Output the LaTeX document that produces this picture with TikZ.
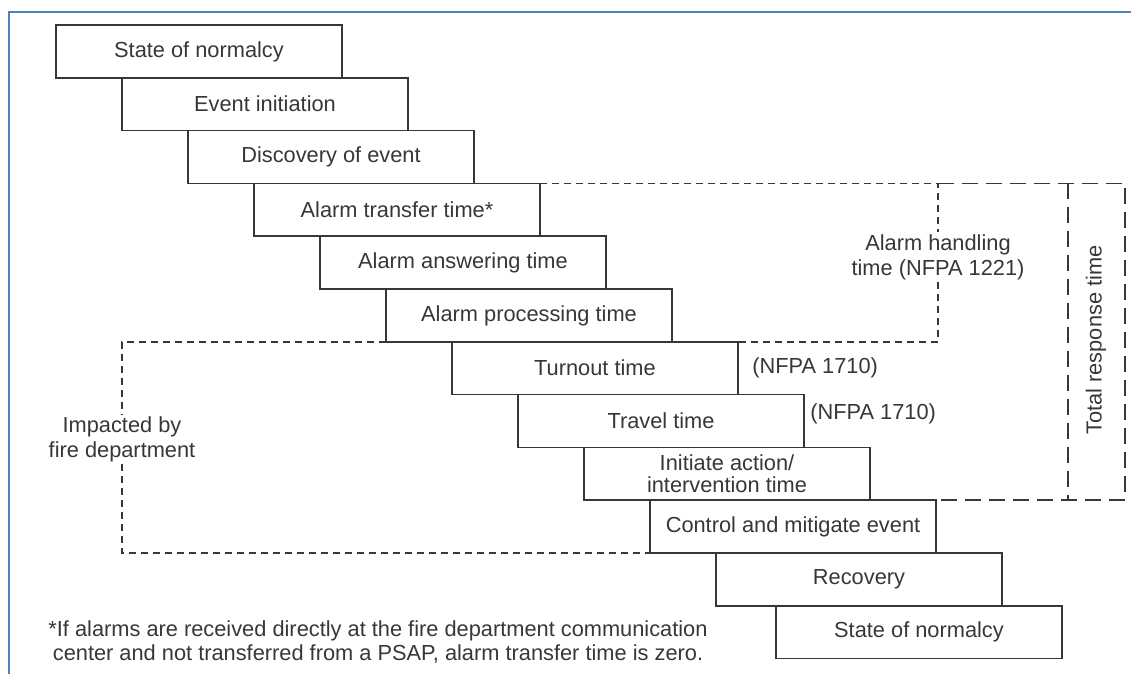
\documentclass[tikz,border=0pt]{standalone}
\usepackage{fontspec}
\setmainfont{Liberation Sans}
\usetikzlibrary{positioning}
\definecolor{framecol}{RGB}{79,129,189}
\definecolor{ink}{RGB}{55,55,55}

\begin{document}
\begin{tikzpicture}[
  x=0.5pt,y=-0.5pt,
  font=\fontsize{10.9}{12.4}\selectfont,
  stage/.style={rectangle,draw=ink,line width=0.8pt,text=ink,minimum width=143pt,minimum height=26.4pt,inner sep=0,outer sep=0,anchor=north west,align=center},
  short dash/.style={draw=ink,line width=0.8pt,dash pattern=on 3.5pt off 2.5pt},
  long dash/.style={draw=ink,line width=0.8pt,dash pattern=on 8pt off 4pt},
  note/.style={text=ink,align=center,inner sep=1pt},
]
  \useasboundingbox (0,0) rectangle (1131,674);
  \draw[framecol,line width=1pt] (9,674) -- (9,12) -- (1131,12);

  % the stages, each one below and right of the last
  \node[stage] (s1) at (56,25) {State of normalcy};
  \node[stage] (s2) at ([xshift=33pt]s1.south west) {Event initiation};
  \node[stage] (s3) at ([xshift=33pt]s2.south west) {Discovery of event};
  \node[stage] (s4) at ([xshift=33pt]s3.south west) {Alarm transfer time*};
  \node[stage] (s5) at ([xshift=33pt]s4.south west) {Alarm answering time};
  \node[stage] (s6) at ([xshift=33pt]s5.south west) {Alarm processing time};
  \node[stage] (s7) at ([xshift=33pt]s6.south west) {Turnout time};
  \node[stage] (s8) at ([xshift=33pt]s7.south west) {Travel time};
  \node[stage,font=\fontsize{10.9}{10.6}\selectfont] (s9) at ([xshift=33pt]s8.south west) {Initiate action/\\intervention time};
  \node[stage] (s10) at ([xshift=33pt]s9.south west) {Control and mitigate event};
  \node[stage] (s11) at ([xshift=33pt]s10.south west) {Recovery};
  \node[stage] (s12) at ([xshift=30pt]s11.south west) {State of normalcy};

  \node[note,anchor=west] (n1) at ([xshift=6pt]s7.east) {(NFPA 1710)};
  \node[note,anchor=west] (n2) at ([xshift=2pt,yshift=3.5pt]s8.east) {(NFPA 1710)};

  % alarm handling
  \node[note,fill=white] (ah) at (938,257) {Alarm handling\\time (NFPA 1221)};
  \draw[short dash] (s4.north east) -| (ah) (ah) |- (s6.south east);

  % total response
  \coordinate (trout) at (1125,0);
  \coordinate (trin) at (1068,0);
  \draw[long dash] (s4.north east -| ah) -- (s4.north east -| trout) -- (s9.south east -| trout) -- (s9.south east);
  \draw[long dash] (s4.north east -| trin) -- (s9.south east -| trin);
  \node[note,rotate=90] (tr) at (1096,340) {Total response time};

  % fire department
  \node[note,fill=white] (fd) at (122,439) {Impacted by\\fire department};
  \draw[short dash] (s6.south west) -| (fd) (fd) |- (s10.south west);

  \node[note] (fn) at (378,642) {*If alarms are received directly at the fire department communication\\center and not transferred from a PSAP, alarm transfer time is zero.};
\end{tikzpicture}
\end{document}
